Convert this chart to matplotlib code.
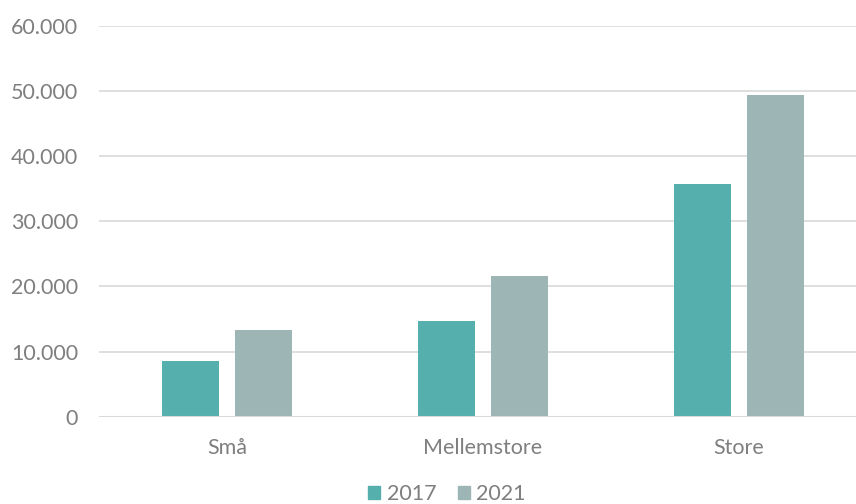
import matplotlib
matplotlib.use("Agg")
import matplotlib.pyplot as plt
import numpy as np
from matplotlib.ticker import FuncFormatter
from matplotlib.patches import Patch

categories = ["Små", "Mellemstore", "Store"]
series_names = ["2017", "2021"]
values_2017 = [8600, 14750, 35750]
values_2021 = [13300, 21550, 49350]
y_ticks = [0, 10000, 20000, 30000, 40000, 50000, 60000]

color_2017 = "#54AFAD"
color_2021 = "#9EB5B5"
text_color = "#7F7F7F"
grid_color = "#D9D9D9"

plt.rcParams["font.family"] = ["Lato", "DejaVu Sans"]

fig = plt.figure(figsize=(8.56, 5.04), dpi=100)
ax = fig.add_axes([99 / 856, 1 - 416.7 / 504, 768 / 856, (416.7 - 25.7) / 504])

x = np.arange(len(categories))
width = 0.224
offset = 0.143
ax.bar(x - offset, values_2017, width, color=color_2017, zorder=3)
ax.bar(x + offset, values_2021, width, color=color_2021, zorder=3)

ax.set_xlim(-0.5, len(categories) - 0.5)
ax.set_ylim(0, 60000)
ax.set_yticks(y_ticks)
ax.yaxis.set_major_formatter(FuncFormatter(lambda v, p: f"{int(v):,}".replace(",", ".")))
ax.set_xticks(x)
ax.set_xticklabels(categories)

ax.grid(axis="y", color=grid_color, linewidth=1.2, zorder=0)
for s in ["top", "right", "left", "bottom"]:
    ax.spines[s].set_visible(False)
ax.axhline(0, color=grid_color, linewidth=1.5, zorder=4)

ax.tick_params(axis="both", length=0, colors=text_color, labelsize=15.5)
ax.tick_params(axis="y", pad=15)
ax.tick_params(axis="x", pad=15)

handles = [Patch(color=color_2017, label=series_names[0]),
           Patch(color=color_2021, label=series_names[1])]
fig.legend(handles=handles, loc="center", bbox_to_anchor=(447 / 856, 1 - 494 / 504),
           ncol=2, frameon=False, fontsize=15.5, labelcolor=text_color,
           handlelength=0.55, handleheight=0.55, handletextpad=0.3, columnspacing=1.0)

fig.savefig("out.png", dpi=100)
